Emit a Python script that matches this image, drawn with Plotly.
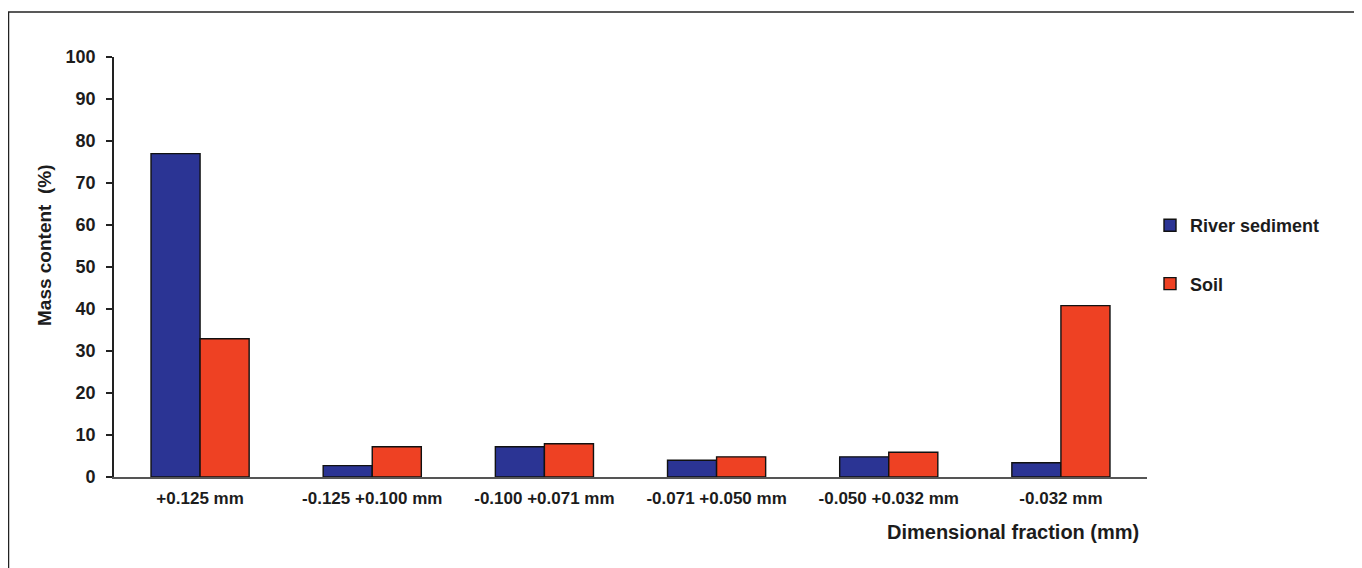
import plotly.graph_objects as go

categories = ["+0.125 mm", "-0.125 +0.100 mm", "-0.100 +0.071 mm",
              "-0.071 +0.050 mm", "-0.050 +0.032 mm", "-0.032 mm"]
river_sediment = [77.0, 2.7, 7.2, 4.0, 4.8, 3.4]
soil = [32.9, 7.2, 7.9, 4.8, 5.9, 40.8]
y_ticks = [0, 10, 20, 30, 40, 50, 60, 70, 80, 90, 100]

FONT = "Liberation Sans, Arial, sans-serif"
TXT = "#1c1c1c"

fig = go.Figure()
fig.add_trace(go.Bar(x=categories, y=river_sediment, name="River sediment",
                     marker=dict(color="#2B3494", line=dict(color="#111111", width=1.4)),
                     legendgroup="a"))
fig.add_trace(go.Bar(x=categories, y=soil, name="Soil",
                     marker=dict(color="#EE4123", line=dict(color="#111111", width=1.4)),
                     legendgroup="b"))

# page offset of 8px (body margin)
OFF = 8
W, H = 1354, 560
L, T = 114 - OFF, 57 - OFF
pw, ph = 1033, 420
R, B = W - L - pw, H - T - ph

def px_x(px):
    return (px - OFF - L) / pw

def px_y(py):
    return (T + ph - (py - OFF)) / ph

fig.update_layout(
    width=W, height=H,
    margin=dict(l=L, r=R, t=T, b=B),
    paper_bgcolor="white", plot_bgcolor="white",
    barmode="group", bargap=0.43, bargroupgap=0,
    font=dict(family=FONT, size=17, color=TXT, weight="bold"),
    showlegend=True,
    legend=dict(x=px_x(1150), y=px_y(207), xanchor="left", yanchor="top",
                font=dict(family=FONT, size=18, color=TXT, weight="bold"),
                tracegroupgap=32, bgcolor="rgba(0,0,0,0)"),
    xaxis=dict(showline=True, linecolor="#555555", linewidth=1.6,
               ticks="", showgrid=False, zeroline=False, ticklabelstandoff=5,
               tickfont=dict(family=FONT, size=17, color=TXT, weight="bold")),
    yaxis=dict(range=[0, 100], tickvals=y_ticks, showline=True, linecolor="#222222",
               linewidth=1.6, ticks="outside", ticklen=6, tickwidth=1.6, tickcolor="#222222",
               showgrid=False, zeroline=False, ticklabelstandoff=7,
               tickfont=dict(family=FONT, size=18, color=TXT, weight="bold")),
    shapes=[
        dict(type="line", xref="paper", yref="paper",
             x0=px_x(8), x1=px_x(1380), y0=px_y(12), y1=px_y(12),
             line=dict(color="#222222", width=1.5)),
        dict(type="line", xref="paper", yref="paper",
             x0=px_x(8.5), x1=px_x(8.5), y0=px_y(12), y1=px_y(590),
             line=dict(color="#222222", width=1.5)),
    ],
    annotations=[
        dict(text="Dimensional fraction (mm)", xref="paper", yref="paper",
             x=px_x(1141), y=px_y(532), xanchor="right", yanchor="middle",
             showarrow=False, font=dict(family=FONT, size=20, color=TXT, weight="bold")),
        dict(text="Mass content  (%)", xref="paper", yref="paper", textangle=-90,
             x=px_x(45), y=px_y(245), xanchor="center", yanchor="middle",
             showarrow=False, font=dict(family=FONT, size=19, color=TXT, weight="bold")),
    ],
)

fig.write_html("out.html")
